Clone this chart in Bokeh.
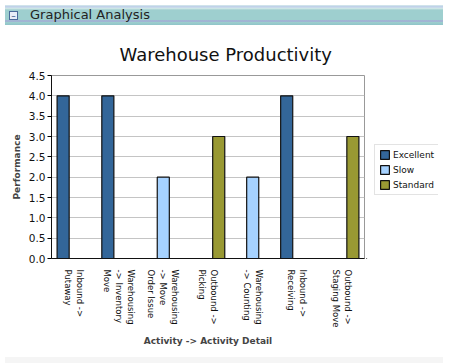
from bokeh.plotting import figure
from bokeh.models import ColumnDataSource, Legend, LegendItem, Div, FixedTicker, NumeralTickFormatter, Range1d
from bokeh.layouts import column, row
from bokeh.transform import dodge
from bokeh.embed import file_html
from bokeh.resources import INLINE

categories = ["Inbound ->\nPutaway", "Warehousing\n-> Inventory\nMove", "Warehousing\n-> Move\nOrder Issue",
              "Outbound ->\nPicking", "Warehousing\n-> Counting", "Inbound ->\nReceiving",
              "Outbound ->\nStaging Move"]
series = ["Excellent", "Slow", "Standard"]
excellent = [4, 4, 0, 0, 0, 4, 0]
slow = [0, 0, 2, 0, 2, 0, 0]
standard = [0, 0, 0, 3, 0, 0, 3]
colors = ["#336699", "#a6d2ff", "#999933"]
y_ticks = [0, 0.5, 1, 1.5, 2, 2.5, 3, 3.5, 4, 4.5]

header = Div(
    text='<div style="display:flex;align-items:center;height:20px;font-family:\'DejaVu Sans\';font-size:13px;color:#222;">'
         '<span style="display:inline-block;width:9px;height:9px;border:1px solid #4a6a9a;background:#e8eef8;'
         'margin-left:4px;margin-right:12px;font-size:9px;line-height:8px;text-align:center;color:#2a4a7a;">&#8211;</span>'
         'Graphical Analysis</div>',
    width=438, height=20,
    styles={"background": "linear-gradient(to bottom, #d8ecec 0px, #b8c8e8 2px, #d8ecec 3px, #c0dede 4px, #9ecfcf 5px, #9ecfcf 15px, #a59ad8 16px, #9ecfcf 17px, #8fc4c8 20px)"},
)

p = figure(x_range=categories, y_range=(0, 4.5), width=366, height=322,
           output_backend="svg", toolbar_location=None,
           title="Warehouse Productivity",
           min_border_left=51, min_border_bottom=94, min_border_top=44, min_border_right=2)
p.title.text_font = "DejaVu Sans"
p.title.text_font_size = "18px"
p.title.text_font_style = "normal"
p.title.align = "left"
p.title.offset = 68
p.title.standoff = 22
p.title.text_color = "#111111"

values = [excellent, slow, standard]
offsets = [-0.24, 0.0, 0.24]
for name, vals, col, off in zip(series, values, colors, offsets):
    xs = [c for c, v in zip(categories, vals) if v > 0]
    ys = [v for v in vals if v > 0]
    src = ColumnDataSource(dict(x=xs, top=ys))
    p.vbar(x=dodge("x", off, range=p.x_range), top="top", width=0.27, source=src,
           fill_color=col, line_color="#111111", line_width=1.2)

p.yaxis.ticker = FixedTicker(ticks=y_ticks)
p.yaxis.formatter = NumeralTickFormatter(format="0.0")
p.yaxis.axis_label = "Performance"
p.xaxis.axis_label = "Activity -> Activity Detail"
for ax in (p.xaxis, p.yaxis):
    ax.axis_label_text_font = "DejaVu Sans"
    ax.axis_label_text_font_size = "9px"
    ax.axis_label_text_font_style = "bold"
    ax.major_label_text_font = "DejaVu Sans"
    ax.major_label_text_font_size = "8.5px"
    ax.major_label_text_color = "#111111"
    ax.axis_line_color = "#111111"
    ax.minor_tick_line_color = None
p.yaxis.major_label_text_font_size = "10.5px"
p.yaxis.major_tick_in = 0
p.yaxis.major_tick_out = 4
p.yaxis.major_label_standoff = 2
p.yaxis.axis_label_standoff = 4
p.xaxis.major_tick_line_color = None
p.xaxis.major_label_orientation = -1.5708
p.xaxis.axis_label_standoff = 6
p.xgrid.grid_line_color = None
p.ygrid.grid_line_color = "#c4c4c4"
p.outline_line_color = "#999999"
p.background_fill_color = "white"
p.border_fill_color = "white"

# legend panel (separate small plot holding the legend; its frame aligns with the chart's)
pl = figure(width=72, height=322, output_backend="svg", toolbar_location=None,
            x_range=Range1d(0, 1), y_range=Range1d(0, 1),
            min_border_left=0, min_border_right=0, min_border_top=44, min_border_bottom=94)
pl.axis.visible = False
pl.grid.grid_line_color = None
pl.outline_line_color = None
pl.background_fill_color = None
pl.border_fill_color = "white"
items = []
for name, col in zip(series, colors):
    # off-screen proxy glyph so the legend swatch gets the series colour
    r = pl.vbar(x=[-10], top=[-10], width=0.1, fill_color=col, line_color="#111111", line_width=1.2)
    items.append(LegendItem(label=name, renderers=[r]))
legend = Legend(items=items, location=(8, 63),
                label_text_font="DejaVu Sans", label_text_font_size="9px",
                label_text_color="#111111",
                glyph_width=11, glyph_height=11, label_height=11, spacing=4,
                padding=4, margin=0, label_standoff=3,
                border_line_color="#c8c8c8", border_line_width=1)
pl.add_layout(legend)

footer = Div(text="", width=438, height=8, styles={"background": "#f5f5f5"})
layout = column(header, row(p, pl, spacing=0), footer, spacing=0)
open("out.html", "w").write(file_html(layout, INLINE))
